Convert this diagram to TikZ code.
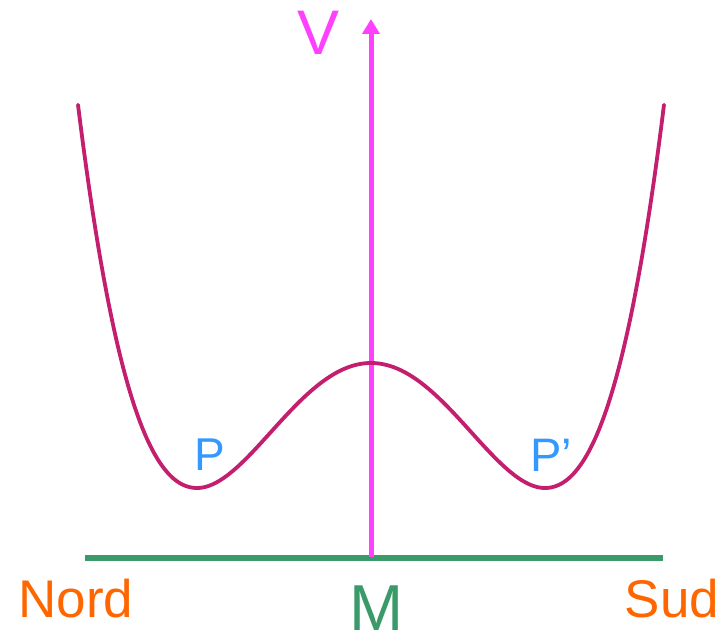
\documentclass[tikz,border=0pt]{standalone}
\usepackage{fontspec}
\setmainfont{Liberation Sans}
\usetikzlibrary{arrows.meta}
\definecolor{curvecol}{RGB}{196,30,110}
\definecolor{axiscol}{RGB}{255,64,255}
\definecolor{basecol}{RGB}{58,154,106}
\definecolor{orangecol}{RGB}{255,102,0}
\definecolor{bluecol}{RGB}{51,153,255}
\tikzset{
  lbl/.style={inner sep=0pt, anchor=base},
  potential/.style={draw=curvecol, line width=3.8pt, line cap=round, line join=round},
  axisline/.style={draw=axiscol, line width=5pt, -{Triangle[width=17pt,length=15pt]}},
  baseline/.style={draw=basecol, line width=5.5pt}
}
\begin{document}
\begin{tikzpicture}[x=1pt,y=-1pt,
  declare function={sq(\u)=(\u/174)*(\u/174); wq(\u)=(1-sq(\u))*(1-sq(\u)); kk(\u)=(abs(\u)>174?0.91:1);}]
\useasboundingbox (0,0) rectangle (724,634);
% base line
\coordinate (gl) at (85,558);
\coordinate (gr) at (663,558);
\draw[baseline] (gl) -- (gr);
% vertical axis
\coordinate (m) at (371,557);
\coordinate (top) at (371,19);
\draw[axisline] (m) -- (top);
% potential curve
\draw[potential] plot[domain=-293:293, samples=241, smooth] ({371+\x},{488-125*kk(\x)*wq(\x)});
% labels
\node[lbl, text=axiscol] (V) at (318.5,55) {\fontsize{63}{70}\selectfont V};
\node[lbl, text=bluecol] (P) at (210,470) {\fontsize{46}{52}\selectfont P};
\node[lbl, text=bluecol] (Pp) at (551,471) {\fontsize{47}{52}\selectfont P’};
\node[lbl, text=orangecol] (nord) at (76,617) {\fontsize{53}{60}\selectfont Nord};
\node[lbl, text=orangecol] (sud) at (672,617) {\fontsize{53}{60}\selectfont Sud};
\node[lbl, text=basecol] (M) at (377,630) {\fontsize{65}{72}\selectfont M};
\end{tikzpicture}
\end{document}
